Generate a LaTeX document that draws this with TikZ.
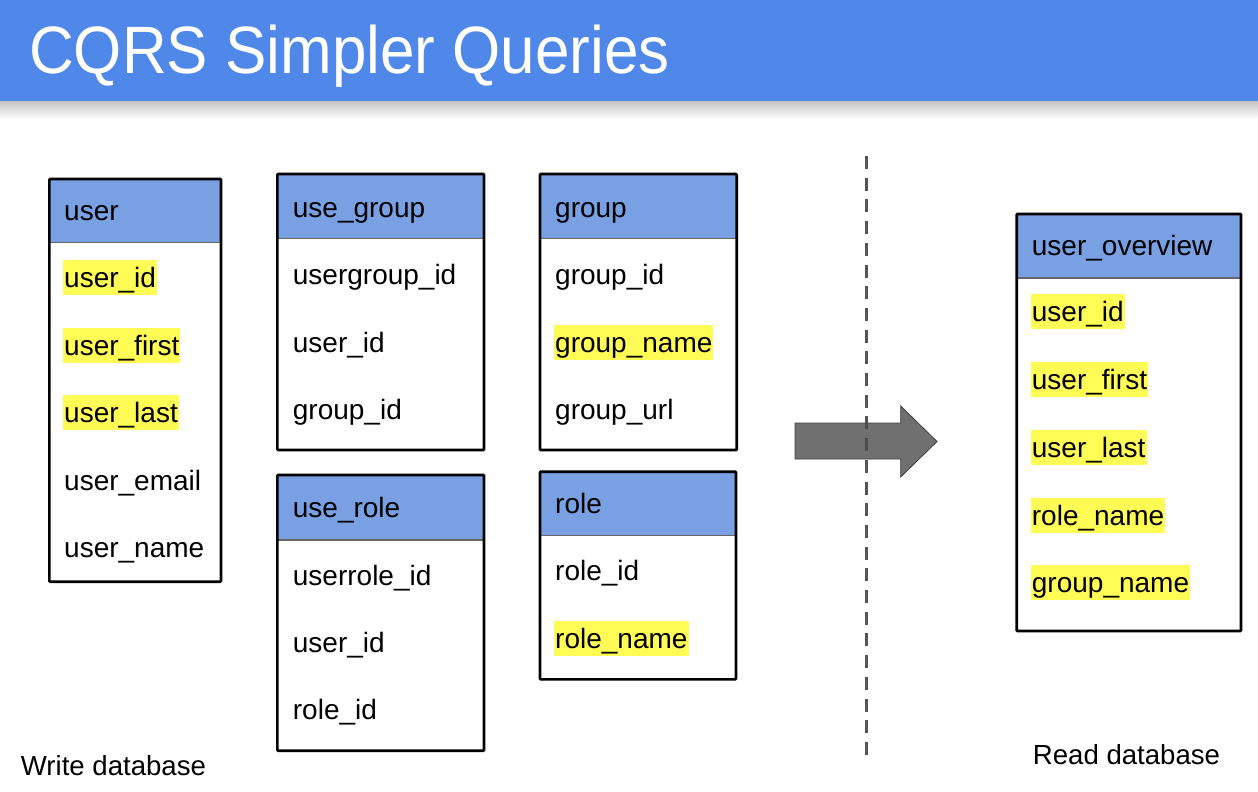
\documentclass[tikz,border=0pt]{standalone}
\usepackage{fontspec}
\setmainfont{Liberation Sans}
\usetikzlibrary{positioning}
\definecolor{barblue}{RGB}{80,136,234}
\definecolor{hdrblue}{RGB}{120,160,227}
\definecolor{hlyellow}{RGB}{255,252,85}
\definecolor{dashgray}{RGB}{85,85,85}
\tikzset{
  fld/.style={anchor=base west, inner sep=0pt, font=\fontsize{28}{34}\selectfont, text=black},
  fldhl/.style={fld, fill=hlyellow, inner xsep=1pt, text height=27.5pt, text depth=7.5pt},
  tblborder/.style={draw=black, line width=2.6pt, rounded corners=0.8pt, inner sep=0pt, outer sep=0pt, anchor=north west},
  tblhead/.style={fill=hdrblue, inner sep=0pt, outer sep=0pt, anchor=north west},
  sepline/.style={draw=black!60, line width=1.2pt},
  caption/.style={anchor=base west, inner sep=0pt, font=\fontsize{27.6}{33}\selectfont, text=black},
}
\begin{document}
\begin{tikzpicture}[x=1pt,y=-1pt]
\useasboundingbox (0,0) rectangle (1258,792);
% title bar
\shade[top color=black!25, bottom color=white] (0,100) rectangle (1258,119);
\fill[barblue] (0,0) rectangle (1258,100.5);
\node[anchor=base west, inner sep=0pt, text=white, font=\fontsize{67}{80}\selectfont] (title) at (29,74) {\scalebox{0.925}[1]{CQRS Simpler Queries}};

% dashed separator
\coordinate (dtop) at (866,156);
\coordinate (dbot) at (866,763);
\draw[dashgray, line width=3pt, dash pattern=on 13pt off 8.7pt] (dtop) -- (dbot);

% ---------- user ----------
\node[tblhead, minimum width=171.7pt, minimum height=63.3pt] (userH) at (49.3,179) {};
\draw[sepline] (49.3,242.3) -- (221,242.3);
\node[tblborder, minimum width=171.7pt, minimum height=402.7pt] (user) at (49.3,179) {};
\node[fld] (userT) at (64,220) {user};
\node[fldhl] (userR1) at (63,287.3) {user\_id};
\node[fldhl] (userR2) at (63,355) {user\_first};
\node[fldhl] (userR3) at (63,422.5) {user\_last};
\node[fld] (userR4) at (64,490) {user\_email};
\node[fld] (userR5) at (64,557.5) {user\_name};

% ---------- use_group ----------
\node[tblhead, minimum width=206.7pt, minimum height=64.7pt] (ugH) at (277.3,174) {};
\draw[sepline] (277.3,238.7) -- (484,238.7);
\node[tblborder, minimum width=206.7pt, minimum height=276pt] (ug) at (277.3,174) {};
\node[fld] (ugT) at (292.7,217) {use\_group};
\node[fld] (ugR1) at (292.7,284) {usergroup\_id};
\node[fld] (ugR2) at (292.7,352) {user\_id};
\node[fld] (ugR3) at (292.7,419) {group\_id};

% ---------- group ----------
\node[tblhead, minimum width=196.7pt, minimum height=64.7pt] (grH) at (540,174) {};
\draw[sepline] (540,238.7) -- (736.7,238.7);
\node[tblborder, minimum width=196.7pt, minimum height=276pt] (gr) at (540,174) {};
\node[fld] (grT) at (555,217) {group};
\node[fld] (grR1) at (555,284) {group\_id};
\node[fldhl] (grR2) at (554,352) {group\_name};
\node[fld] (grR3) at (555,419) {group\_url};

% ---------- use_role ----------
\node[tblhead, minimum width=206.7pt, minimum height=65pt] (urH) at (277.3,475) {};
\draw[sepline] (277.3,540) -- (484,540);
\node[tblborder, minimum width=206.7pt, minimum height=275.7pt] (ur) at (277.3,475) {};
\node[fld] (urT) at (292.7,517) {use\_role};
\node[fld] (urR1) at (292.7,585) {userrole\_id};
\node[fld] (urR2) at (292.7,652.7) {user\_id};
\node[fld] (urR3) at (292.7,719) {role\_id};

% ---------- role ----------
\node[tblhead, minimum width=196pt, minimum height=63.6pt] (roH) at (540,471.7) {};
\draw[sepline] (540,535.3) -- (736,535.3);
\node[tblborder, minimum width=196pt, minimum height=207.6pt] (ro) at (540,471.7) {};
\node[fld] (roT) at (555,513) {role};
\node[fld] (roR1) at (555,580.7) {role\_id};
\node[fldhl] (roR2) at (554,648) {role\_name};

% ---------- user_overview ----------
\node[tblhead, minimum width=224.3pt, minimum height=64pt] (uoH) at (1016.7,214) {};
\draw[sepline] (1016.7,278) -- (1241,278);
\node[tblborder, minimum width=224.3pt, minimum height=417pt] (uo) at (1016.7,214) {};
\node[fld] (uoT) at (1031.7,255) {user\_overview};
\node[fldhl] (uoR1) at (1030.7,321.7) {user\_id};
\node[fldhl] (uoR2) at (1030.7,389) {user\_first};
\node[fldhl] (uoR3) at (1030.7,457) {user\_last};
\node[fldhl] (uoR4) at (1030.7,525) {role\_name};
\node[fldhl] (uoR5) at (1030.7,592.7) {group\_name};

% ---------- block arrow ----------
\filldraw[fill=black!70, fill opacity=0.8, draw=black!75, line width=0.8pt]
  (795,423) -- (900.7,423) -- (900.7,406) -- (937,441.5) -- (900.7,477) -- (900.7,459) -- (795,459) -- cycle;

% captions
\node[caption] (wdb) at (20.7,775) {Write database};
\node[caption] (rdb) at (1032.7,764) {Read database};
\end{tikzpicture}
\end{document}
